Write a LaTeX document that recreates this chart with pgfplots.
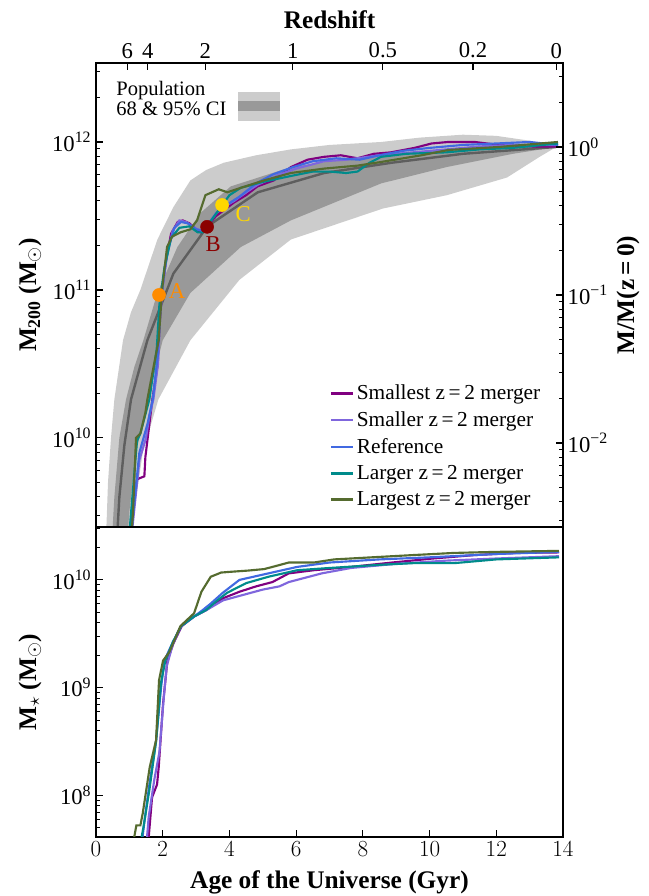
\documentclass[border=0pt]{standalone}
\usepackage{fontspec}
\setmainfont{Liberation Serif}
\usepackage{pgfplots}
\pgfplotsset{compat=1.18}
\definecolor{cSmallest}{HTML}{800080}
\definecolor{cSmaller}{HTML}{7F66DD}
\definecolor{cRef}{HTML}{4169E1}
\definecolor{cLarger}{HTML}{008B8B}
\definecolor{cLargest}{HTML}{556B2F}
\definecolor{bandA}{HTML}{CCCCCC}
\definecolor{bandB}{HTML}{999999}
\definecolor{medline}{HTML}{5E5E5E}
\definecolor{ptA}{HTML}{FF8C00}
\definecolor{ptB}{HTML}{8B0000}
\definecolor{ptC}{HTML}{FFD700}
\begin{document}
\begin{tikzpicture}
\path[use as bounding box] (0,0) rectangle (486.75pt,672pt);
\pgfplotsset{
  common/.style={scale only axis, width=350.25pt, xmin=0, xmax=14,
    tick align=inside, major tick length=5pt, minor tick length=3pt,
    every major tick/.append style={line width=0.9pt,black},
    every minor tick/.append style={line width=0.7pt,black},
    axis line style={line width=1.3pt},
    tick label style={font=\fontsize{17}{17}\selectfont},
    label style={font=\fontsize{19}{19}\selectfont\bfseries},
  },
  curve/.style={line width=1.6pt},
}
% ---------------- top panel, main axis ----------------
\begin{axis}[common, at={(72pt,276.75pt)}, anchor=south west, height=348pt,
  ymode=log, ymin=2.5e9, ymax=3.42e12,
  xtick=\empty, ytick pos=left,
  ytick={1e10,1e11,1e12},
  yticklabels={10\textsuperscript{10},10\textsuperscript{11},10\textsuperscript{12}},
  minor ytick={3e9,4e9,5e9,6e9,7e9,8e9,9e9,2e10,3e10,4e10,5e10,6e10,7e10,8e10,9e10,2e11,3e11,4e11,5e11,6e11,7e11,8e11,9e11,2e12,3e12},
  ylabel={M\textsubscript{200} (M\textsubscript{$\odot$})},
  ylabel style={at={(axis description cs:-0.141,0.5)}, anchor=center},
  legend cell align=left,
  legend image code/.code={\draw[#1, line width=1.8pt] (0pt,0pt) -- (16.5pt,0pt);},
  legend style={at={(axis description cs:0.50,0.312)}, anchor=north west, draw=none, fill=none,
    font=\fontsize{16}{16}\selectfont, row sep=3.4pt, inner sep=0pt},
]
% 95% band
\addplot[fill=bandA, draw=none, forget plot] coordinates {
(0.28,1.58e9) (0.36,5.01e9) (0.45,1.00e10) (0.55,1.82e10) (0.81,4.57e10) (1.05,7.08e10)
(1.33,1.00e11) (1.84,2.19e11) (2.32,3.63e11) (2.83,5.50e11) (3.3,6.46e11) (3.83,7.24e11)
(4.8,8.13e11) (5.84,8.91e11) (7.0,9.55e11) (8.55,1.00e12) (9.7,1.07e12) (11.0,1.12e12)
(12.0,1.10e12) (13.0,1.02e12) (13.8,9.25e11)
(13.3,7.94e11) (12.32,5.75e11) (10.52,4.37e11) (8.6,3.55e11) (5.84,2.19e11) (4.3,1.17e11)
(2.83,4.57e10) (1.87,1.82e10) (1.4,7.94e9) (1.08,2.51e9) (1.0,1.58e9)
} -- cycle;
% 68% band
\addplot[fill=bandB, draw=none, forget plot] coordinates {
(0.45,1.58e9) (0.55,3.98e9) (0.7,1.00e10) (0.9,1.82e10) (1.15,3.02e10) (1.42,4.57e10)
(1.84,9.55e10) (2.44,1.95e11) (3.13,3.31e11) (4.04,5.01e11) (5.84,6.76e11) (8.55,8.32e11)
(10.5,8.91e11) (12.5,9.23e11) (13.8,9.25e11)
(12.5,8.32e11) (10.5,6.76e11) (8.55,5.25e11) (5.84,2.95e11) (4.34,1.95e11) (2.83,9.55e10)
(2.0,4.57e10) (1.56,1.82e10) (1.2,7.94e9) (1.0,3.16e9) (0.9,1.58e9)
} -- cycle;
% median
\addplot[medline, line width=1.8pt, forget plot] coordinates {
(0.6,1.58e9) (0.7,3.98e9) (0.85,8.91e9) (1.05,1.82e10) (1.54,4.57e10) (2.32,1.29e11)
(3.34,2.69e11) (4.85,4.57e11) (6.84,6.17e11) (8.86,7.24e11) (11.0,8.32e11) (13.8,9.25e11)
};
% Smallest
\addplot[curve, cSmallest] coordinates {
(0.98,2.0e9) (1.23,5.25e9) (1.45,5.50e9) (1.48,7.41e9) (1.69,1.82e10) (1.85,3.16e10)
(1.9,5.62e10) (1.98,1.00e11) (2.1,1.58e11) (2.25,2.40e11) (2.45,2.88e11) (2.6,2.95e11)
(2.8,2.82e11) (3.0,2.57e11) (3.15,2.45e11) (3.33,2.69e11) (3.6,3.16e11) (3.9,3.55e11)
(4.13,3.89e11) (4.5,4.37e11) (4.84,5.01e11) (5.33,5.50e11) (5.84,6.76e11) (6.34,7.59e11)
(6.84,7.94e11) (7.34,8.13e11) (7.84,7.76e11) (8.33,8.32e11) (8.84,8.51e11) (9.55,9.12e11)
(10.06,9.77e11) (10.56,1.00e12) (11.36,1.00e12) (12.07,9.55e11) (13.07,9.33e11) (13.85,9.33e11)
};
\addlegendentry{Smallest z\,=\,2 merger}
% Smaller
\addplot[curve, cSmaller] coordinates {
(1.05,2.0e9) (1.3,7.08e9) (1.5,1.0e10) (1.6,1.41e10) (1.72,1.82e10) (1.86,3.16e10)
(1.92,6.31e10) (2.0,1.05e11) (2.12,1.66e11) (2.3,2.51e11) (2.5,2.95e11) (2.7,2.88e11)
(2.95,2.63e11) (3.15,2.51e11) (3.35,2.75e11) (3.6,3.31e11) (3.9,3.72e11) (4.13,3.98e11)
(4.5,4.57e11) (4.84,5.13e11) (5.5,6.03e11) (6.0,6.61e11) (6.84,7.41e11) (7.5,7.59e11)
(8.5,8.13e11) (9.5,8.51e11) (10.5,8.91e11) (11.5,9.33e11) (12.5,9.55e11) (13.85,9.55e11)
};
\addlegendentry{Smaller z\,=\,2 merger}
% Reference
\addplot[curve, cRef] coordinates {
(1.03,2.0e9) (1.3,7.94e9) (1.55,1.26e10) (1.7,1.82e10) (1.85,3.55e10) (1.92,7.08e10)
(2.02,1.20e11) (2.15,1.86e11) (2.35,2.63e11) (2.55,2.88e11) (2.75,2.82e11) (3.0,2.57e11)
(3.2,2.51e11) (3.38,2.82e11) (3.65,3.39e11) (3.95,3.80e11) (4.3,4.27e11) (4.8,5.25e11)
(5.3,6.03e11) (5.9,6.76e11) (6.5,7.41e11) (7.2,7.76e11) (7.9,7.59e11) (8.5,8.13e11)
(9.2,8.71e11) (10.0,9.12e11) (11.0,9.55e11) (12.0,9.77e11) (13.0,1.00e12) (13.85,9.55e11)
};
\addlegendentry{Reference}
% Larger
\addplot[curve, cLarger] coordinates {
(0.98,2.0e9) (1.23,9.55e9) (1.33,1.07e10) (1.6,1.82e10) (1.82,3.98e10) (1.9,7.94e10)
(2.05,1.41e11) (2.25,2.24e11) (2.5,2.63e11) (2.8,2.69e11) (3.05,2.45e11) (3.2,2.45e11)
(3.33,2.69e11) (3.55,3.16e11) (3.78,3.72e11) (4.0,4.37e11) (4.34,4.90e11) (5.0,5.37e11)
(5.84,5.89e11) (6.5,6.31e11) (7.0,6.31e11) (7.5,6.17e11) (7.84,6.31e11) (8.2,7.24e11)
(8.55,7.94e11) (9.3,8.32e11) (10.5,8.51e11) (11.5,8.91e11) (12.5,9.12e11) (13.85,9.77e11)
};
\addlegendentry{Larger z\,=\,2 merger}
% Largest
\addplot[curve, cLargest] coordinates {
(1.05,2.0e9) (1.11,3.16e9) (1.20,1.0e10) (1.33,1.07e10) (1.48,1.48e10) (1.54,1.82e10)
(1.7,2.82e10) (1.88,4.57e10) (1.98,1.0e11) (2.13,1.95e11) (2.28,2.29e11) (2.53,2.45e11)
(2.83,2.57e11) (3.03,2.95e11) (3.28,4.37e11) (3.68,4.79e11) (3.94,4.57e11) (4.34,4.90e11)
(5.04,5.50e11) (5.84,6.17e11) (6.84,6.61e11) (7.84,6.92e11) (8.55,7.33e11) (9.76,8.13e11)
(10.56,8.83e11) (12.07,9.25e11) (13.85,1.0e12)
};
\addlegendentry{Largest z\,=\,2 merger}
% points A B C
\addplot[only marks, mark=*, mark size=4.9pt, ptA, forget plot] coordinates {(1.89,9.25e10)};
\addplot[only marks, mark=*, mark size=4.9pt, ptB, forget plot] coordinates {(3.33,2.67e11)};
\addplot[only marks, mark=*, mark size=4.9pt, ptC, forget plot] coordinates {(3.78,3.75e11)};
\node[ptA, font=\fontsize{17}{17}\selectfont] at (axis cs:2.43,9.77e10) {A};
\node[ptB, font=\fontsize{17}{17}\selectfont] at (axis cs:3.51,2.04e11) {B};
\node[ptC, font=\fontsize{17}{17}\selectfont] at (axis cs:4.41,3.24e11) {C};
% population legend
\node[anchor=north west, align=left, inner sep=0pt, font=\fontsize{15.4}{15}\selectfont]
  at (axis description cs:0.043,0.962) {Population\\68 \& 95\% CI};
\fill[bandA] (axis description cs:0.304,0.875) rectangle (axis description cs:0.394,0.9375);
\fill[bandB] (axis description cs:0.304,0.8966) rectangle (axis description cs:0.394,0.918);
\end{axis}
% ---------------- top panel, overlay axis (redshift + normalised) ----------------
\begin{axis}[common, at={(72pt,276.75pt)}, anchor=south west, height=348pt,
  ymode=log, ymin=2.703e-3, ymax=3.697,
  xtick pos=right, xticklabel pos=right, ytick pos=right, yticklabel pos=right,
  xtick={0.94,1.55,3.28,5.9,8.6,11.3,13.8},
  xticklabels={6,4,2,1,0.5,0.2,0},
  ytick={0.01,0.1,1},
  yticklabels={10\textsuperscript{−2},10\textsuperscript{−1},10\textsuperscript{0}},
  minor ytick={3e-3,4e-3,5e-3,6e-3,7e-3,8e-3,9e-3,0.02,0.03,0.04,0.05,0.06,0.07,0.08,0.09,0.2,0.3,0.4,0.5,0.6,0.7,0.8,0.9,2,3},
  xlabel={Redshift},
  xlabel style={at={(axis description cs:0.5,1.093)}, anchor=center},
  ylabel={M/M(z\,=\,0)},
  ylabel style={at={(axis description cs:1.139,0.5)}, anchor=center},
]
\end{axis}
% ---------------- bottom panel ----------------
\begin{axis}[common, at={(72pt,44.25pt)}, anchor=south west, height=232.5pt,
  ymode=log, ymin=4.1e7, ymax=3.1e10,
  xtick pos=left, ytick pos=left,
  xtick={0,2,4,6,8,10,12,14},
  ytick={1e8,1e9,1e10},
  yticklabels={10\textsuperscript{8},10\textsuperscript{9},10\textsuperscript{10}},
  minor ytick={5e7,6e7,7e7,8e7,9e7,2e8,3e8,4e8,5e8,6e8,7e8,8e8,9e8,2e9,3e9,4e9,5e9,6e9,7e9,8e9,9e9,2e10,3e10},
  xlabel={Age of the Universe (Gyr)},
  xlabel style={at={(axis description cs:0.5,-0.148)}, anchor=center},
  ylabel={M\textsubscript{$\star$} (M\textsubscript{$\odot$})},
  ylabel style={at={(axis description cs:-0.141,0.5)}, anchor=center},
]
\addplot[curve, cSmallest] coordinates {
(1.55,3.16e7) (1.58,4.07e7) (1.68,9.55e7) (1.83,1.26e8) (1.88,1.82e8) (2.01,7.08e8)
(2.14,1.78e9) (2.32,2.57e9) (2.57,3.72e9) (2.94,4.57e9) (3.31,5.25e9) (3.81,6.76e9)
(4.30,7.76e9) (4.80,8.71e9) (5.29,9.55e9) (5.78,1.15e10) (6.53,1.23e10) (7.64,1.32e10)
(8.88,1.45e10) (10.1,1.58e10) (11.35,1.70e10) (12.58,1.78e10) (13.88,1.80e10)
};
\addplot[curve, cSmaller] coordinates {
(1.5,3.16e7) (1.58,6.31e7) (1.75,1.41e8) (1.9,2.51e8) (2.03,7.94e8) (2.12,1.58e9)
(2.3,2.51e9) (2.55,3.72e9) (2.94,4.57e9) (3.31,5.25e9) (3.81,6.46e9) (4.4,7.24e9)
(5.0,8.13e9) (5.5,8.71e9) (5.78,9.55e9) (6.77,1.15e10) (7.64,1.29e10) (9.0,1.41e10)
(10.5,1.51e10) (12.0,1.58e10) (13.88,1.66e10)
};
\addplot[curve, cRef] coordinates {
(1.35,3.16e7) (1.45,5.62e7) (1.6,1.26e8) (1.8,3.16e8) (1.95,1.0e9) (2.05,1.78e9)
(2.3,2.63e9) (2.55,3.72e9) (2.94,4.57e9) (3.2,5.25e9) (3.44,6.03e9) (3.8,7.59e9)
(4.30,1.0e10) (5.17,1.15e10) (6.03,1.32e10) (7.0,1.45e10) (8.5,1.55e10) (10.0,1.62e10)
(12.0,1.74e10) (13.88,1.82e10)
};
\addplot[curve, cLarger] coordinates {
(1.3,3.16e7) (1.42,5.01e7) (1.6,1.12e8) (1.8,3.16e8) (1.95,1.12e9) (2.08,1.78e9)
(2.3,2.63e9) (2.55,3.72e9) (2.94,4.57e9) (3.3,5.25e9) (3.6,6.31e9) (3.93,7.59e9)
(4.5,9.33e9) (5.17,1.07e10) (6.03,1.23e10) (7.0,1.29e10) (8.5,1.38e10) (9.5,1.43e10)
(10.73,1.43e10) (12.0,1.55e10) (13.88,1.62e10)
};
\addplot[curve, cLargest] coordinates {
(1.08,3.16e7) (1.21,5.25e7) (1.33,5.25e7) (1.40,6.76e7) (1.61,1.82e8) (1.80,3.24e8)
(1.89,1.17e9) (2.01,1.78e9) (2.2,2.14e9) (2.53,3.72e9) (2.94,4.90e9) (3.16,7.76e9)
(3.44,1.07e10) (3.75,1.17e10) (4.05,1.19e10) (4.55,1.22e10) (5.04,1.26e10) (5.29,1.32e10)
(5.78,1.45e10) (6.53,1.45e10) (7.14,1.55e10) (8.26,1.62e10) (9.5,1.70e10) (10.73,1.78e10)
(11.97,1.82e10) (13.88,1.86e10)
};
\end{axis}
\end{tikzpicture}
\end{document}
